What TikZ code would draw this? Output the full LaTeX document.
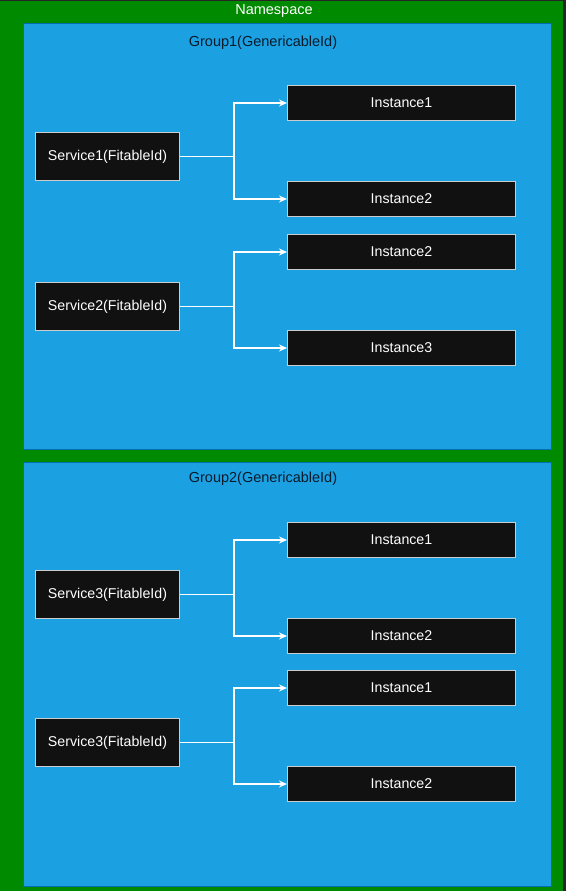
\documentclass[tikz,border=0pt]{standalone}
\usepackage{fontspec}
\setmainfont{Liberation Sans}
\usetikzlibrary{arrows.meta}
\definecolor{nsgreen}{HTML}{008A00}
\definecolor{nsgreendark}{HTML}{005700}
\definecolor{grpblue}{HTML}{1BA1E2}
\definecolor{grpbluedark}{HTML}{006EAF}
\definecolor{boxfill}{HTML}{111111}
\definecolor{boxline}{HTML}{CCCCCC}
\definecolor{titletext}{HTML}{0A1A2A}
\tikzset{
  x=1pt, y=-1pt,
  groupbox/.style={draw=grpbluedark, fill=grpblue, line width=1pt},
  darkbox/.style={draw=boxline, fill=boxfill, line width=1pt, text=white,
     font=\fontsize{14.2}{16}\selectfont, inner sep=0pt, anchor=north west},
  link/.style={draw=white, line width=1.2pt, -{Stealth[length=8pt,width=7pt]}},
}
\newcommand{\svcbox}[3]{\node[darkbox, minimum width=144pt, minimum height=48pt] (#1) at (35,#2) {#3};}
\newcommand{\instbox}[3]{\node[darkbox, minimum width=228pt, minimum height=35pt] (#1) at (287,#2) {#3};}
\begin{document}
\begin{tikzpicture}
\useasboundingbox (0,0) rectangle (566,891);
\fill[black!85] (0,0) rectangle (566,891);
\fill[nsgreen] (0,1) rectangle (563,891);
\node[text=white, font=\fontsize{14.5}{16}\selectfont] (ns) at (274,11) {Namespace};
\draw[groupbox] (23,24) rectangle (551,449);
\draw[groupbox] (23,462) rectangle (551,886);
\node[text=titletext, font=\fontsize{14.5}{16}\selectfont] (g1) at (263,43) {Group1(GenericableId)};
\node[text=titletext, font=\fontsize{14.5}{16}\selectfont] (g2) at (263,479) {Group2(GenericableId)};
% Group 1
\svcbox{s1}{132}{Service1(FitableId)}
\instbox{i11}{85}{Instance1}
\instbox{i12}{181}{Instance2}
\svcbox{s2}{282}{Service2(FitableId)}
\instbox{i21}{234}{Instance2}
\instbox{i22}{330}{Instance3}
% Group 2
\svcbox{s3}{570}{Service3(FitableId)}
\instbox{i31}{522}{Instance1}
\instbox{i32}{618}{Instance2}
\svcbox{s4}{718}{Service3(FitableId)}
\instbox{i41}{670}{Instance1}
\instbox{i42}{766}{Instance2}
% connectors
\foreach \s/\a/\b in {s1/i11/i12, s2/i21/i22, s3/i31/i32, s4/i41/i42}{
  \draw[link] (\s.east) -- ++(54,0) |- (\a.west);
  \draw[link] (\s.east) -- ++(54,0) |- (\b.west);
}
\end{tikzpicture}
\end{document}
